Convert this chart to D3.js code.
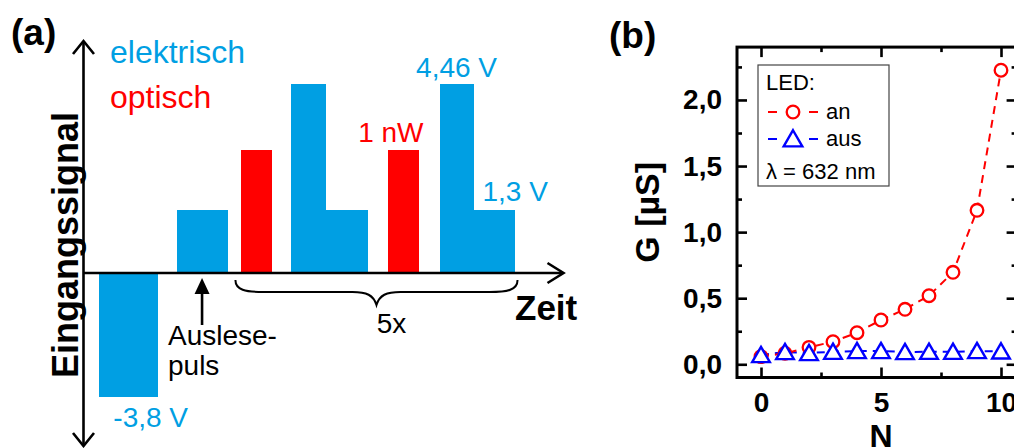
<!DOCTYPE html>
<html><head><meta charset="utf-8">
<script src="https://cdn.jsdelivr.net/npm/d3@7"></script>
<style>
html,body{margin:0;padding:0;background:#fff;}
svg{display:block;font-family:"Liberation Sans",Arial,Helvetica,sans-serif;}
</style></head><body>
<svg id="chart" width="1014" height="448"></svg>
<script>
// ---- Panel (a): input pulse sequence (time in arbitrary units) ----
const pulseStart = [3.3, 19.4, 32.9, 43.3, 50.4, 63.5, 74.2, 81.25];
const pulseEnd   = [15.4, 30.0, 39.2, 50.4, 59.2, 69.8, 81.25, 89.8];
const pulseKind  = ["elektrisch", "elektrisch", "optisch", "elektrisch", "elektrisch", "optisch", "elektrisch", "elektrisch"];
const pulseValue = [-3.8, 1.3, 1, 4.46, 1.3, 1, 4.46, 1.3];
const pulseUnit  = ["V", "V", "nW", "V", "V", "nW", "V", "V"];
const signalKinds = ["elektrisch", "optisch"];

// ---- Panel (b): conductance vs. number of cycles ----
const cycles  = [0, 1, 2, 3, 4, 5, 6, 7, 8, 9, 10];
const gLedOn  = [0.058, 0.083, 0.128, 0.171, 0.239, 0.335, 0.416, 0.519, 0.696, 1.165, 2.225];
const gLedOff = [0.07, 0.093, 0.085, 0.095, 0.1, 0.1, 0.093, 0.095, 0.095, 0.1, 0.097];
const gMajorTicks = [0, 0.5, 1.0, 1.5, 2.0];
const gMinorTicks = [0.25, 0.75, 1.25, 1.75, 2.25];
const nMajorTicks = [0, 5, 10];
const nMinorTicks = [2.5, 7.5];
const ledStates = ["an", "aus"];
const wavelengthNm = 632;

const de = d3.formatLocale({decimal: ",", thousands: ".", grouping: [3], currency: ["", " €"], minus: "-"});
const fmtTick = de.format(".1f");
const fmtVal = de.format("~g");

const BLUE_A = "#009FE3", RED = "#FF0000", BLUE_B = "#0000FF";
const kindColor = d3.scaleOrdinal().domain(signalKinds).range([BLUE_A, RED]);

const svg = d3.select("#chart");

/* ================= Panel (a) ================= */
const a = svg.append("g");
const xT = d3.scaleLinear().domain([0, 100]).range([83.5, 563.5]);
// schematic signal axis: compressive power scale, separate slopes above/below zero
const yEl = d3.scalePow().exponent(0.89).domain([-5, 0, 5]).range([431, 273, 64]);
const yOpt = d3.scaleLinear().domain([0, 2]).range([273, 27]);
const yFor = k => (k === "optisch" ? yOpt : yEl);

const pulses = pulseValue.map((v, i) => ({
  i, v, kind: pulseKind[i], unit: pulseUnit[i], t0: pulseStart[i], t1: pulseEnd[i]
}));

a.selectAll("rect.pulse").data(pulses).join("rect")
  .attr("class", "pulse")
  .attr("shape-rendering", "crispEdges")
  .attr("x", d => xT(d.t0))
  .attr("width", d => xT(d.t1) - xT(d.t0) + 0.6)
  .attr("y", d => Math.min(yFor(d.kind)(d.v), yFor(d.kind)(0)))
  .attr("height", d => Math.abs(yFor(d.kind)(d.v) - yFor(d.kind)(0)))
  .attr("fill", d => kindColor(d.kind));

// axes with open arrowheads
const y0 = yEl(0), xAxis0 = xT(0);
const axA = a.append("g").attr("stroke", "#000").attr("stroke-width", 2.6).attr("fill", "none");
axA.append("line").attr("x1", xAxis0).attr("x2", xAxis0).attr("y1", 41).attr("y2", 446);
axA.append("line").attr("x1", xAxis0).attr("x2", xT(100) - 1).attr("y1", y0).attr("y2", y0);
axA.append("polyline").attr("points", `${xAxis0 - 10.5},54 ${xAxis0},41 ${xAxis0 + 10.5},54`);
axA.append("polyline").attr("points", `${xAxis0 - 10.5},433 ${xAxis0},446 ${xAxis0 + 10.5},433`);
axA.append("polyline").attr("points", `${xT(100) - 16},${y0 - 10} ${xT(100)},${y0} ${xT(100) - 16},${y0 + 10}`);

// legend of signal kinds
a.selectAll("text.kind").data(signalKinds).join("text")
  .attr("class", "kind")
  .attr("x", 110).attr("y", (d, i) => 63 + i * 45)
  .attr("font-size", 32).attr("fill", d => kindColor(d)).text(d => d);

// value labels
const lab = (i, dx, dy, anchor, ref) => {
  const d = pulses[i];
  const ys = yFor(d.kind);
  const xr = ref === "start" ? xT(d.t0) : ref === "end" ? xT(d.t1) : (xT(d.t0) + xT(d.t1)) / 2;
  a.append("text").attr("x", xr + dx).attr("y", ys(d.v) + dy)
    .attr("text-anchor", anchor).attr("font-size", 28)
    .attr("fill", kindColor(d.kind)).text(`${fmtVal(d.v)} ${d.unit}`);
};
lab(0, 14, 30, "start", "start");
lab(5, 5, -8, "end", "end");
lab(6, 0, -7, "middle", "mid");
lab(7, 9, -9, "start", "start");

// read-out pulse marker
const readX = (xT(pulses[1].t0) + xT(pulses[1].t1)) / 2;
a.append("path").attr("d", `M${readX},${y0 + 5} L${readX - 7.5},${y0 + 21} L${readX + 7.5},${y0 + 21} Z`).attr("fill", "#000");
a.append("line").attr("x1", readX).attr("x2", readX).attr("y1", y0 + 20).attr("y2", y0 + 52)
  .attr("stroke", "#000").attr("stroke-width", 2.6);
a.append("text").attr("x", 168).attr("y", 345).attr("font-size", 28).text("Auslese-");
a.append("text").attr("x", 168).attr("y", 375).attr("font-size", 28).text("puls");

// brace over the repeated block
const bx0 = xT(pulses[2].t0) - 6, bx1 = xT(pulses[7].t1) + 3, bm = (bx0 + bx1) / 2;
const by0 = y0 + 7, byF = y0 + 19, byT = y0 + 32;
a.append("path")
  .attr("d", `M${bx0},${by0} C${bx0},${by0 + 10} ${bx0 + 10},${byF} ${bx0 + 28},${byF}
    L${bm - 24},${byF} C${bm - 10},${byF} ${bm - 3},${byF + 3} ${bm},${byT}
    C${bm + 3},${byF + 3} ${bm + 10},${byF} ${bm + 24},${byF}
    L${bx1 - 28},${byF} C${bx1 - 10},${byF} ${bx1},${by0 + 10} ${bx1},${by0}`)
  .attr("fill", "none").attr("stroke", "#000").attr("stroke-width", 2);
a.append("text").attr("x", bm + 15).attr("y", 333).attr("text-anchor", "middle").attr("font-size", 28).text("5x");

a.append("text").attr("x", 515).attr("y", 320).attr("font-size", 35).attr("font-weight", "bold").text("Zeit");
a.append("text").attr("transform", "translate(78,245) rotate(-90)").attr("text-anchor", "middle")
  .attr("font-size", 36).attr("font-weight", "bold").text("Eingangssignal");
a.append("text").attr("x", 11).attr("y", 45).attr("font-size", 37).attr("font-weight", "bold").text("(a)");

/* ================= Panel (b) ================= */
const b = svg.append("g");
const xB = d3.scaleLinear().domain([-1, 10.65]).range([737, 1016.6]);
const yB = d3.scaleLinear().domain([-0.1, 2.4]).range([377.5, 47.1]);
const [xl, xr] = xB.range(), [yb, yt] = yB.range();

function styleAxis(g) {
  g.select(".domain").remove();
  g.selectAll(".tick line").attr("stroke", "#000").attr("stroke-width", 2.6);
  g.selectAll("text").attr("font-family", null).attr("font-size", 28).attr("font-weight", "bold").attr("fill", "#000");
  g.attr("font-family", null).attr("font-size", null);
}
const addAxis = (axis, tx, ty) => b.append("g").attr("transform", `translate(${tx},${ty})`).call(axis).call(styleAxis);

addAxis(d3.axisLeft(yB).tickValues(gMajorTicks).tickSize(-10).tickPadding(15).tickFormat(fmtTick), xl, 0);
addAxis(d3.axisLeft(yB).tickValues(gMinorTicks).tickSize(-5).tickFormat(""), xl, 0);
addAxis(d3.axisRight(yB).tickValues(gMajorTicks).tickSize(-10).tickFormat(""), xr, 0);
addAxis(d3.axisRight(yB).tickValues(gMinorTicks).tickSize(-5).tickFormat(""), xr, 0);
addAxis(d3.axisBottom(xB).tickValues(nMajorTicks).tickSize(-10).tickPadding(14.5).tickFormat(d3.format("d")), 0, yb);
addAxis(d3.axisBottom(xB).tickValues(nMinorTicks).tickSize(-5).tickFormat(""), 0, yb);
addAxis(d3.axisTop(xB).tickValues(nMajorTicks).tickSize(-10).tickFormat(""), 0, yt);
addAxis(d3.axisTop(xB).tickValues(nMinorTicks).tickSize(-5).tickFormat(""), 0, yt);

b.append("rect").attr("x", xl).attr("y", yt).attr("width", xr - xl).attr("height", yb - yt)
  .attr("fill", "none").attr("stroke", "#000").attr("stroke-width", 3);

const line = d3.line().x((d, i) => xB(cycles[i])).y(d => yB(d));
b.append("path").attr("d", line(gLedOff)).attr("fill", "none").attr("stroke", BLUE_B)
  .attr("stroke-width", 2).attr("stroke-dasharray", "8,6");
b.append("path").attr("d", line(gLedOn)).attr("fill", "none").attr("stroke", RED)
  .attr("stroke-width", 2).attr("stroke-dasharray", "8,6");

b.selectAll("circle.on").data(gLedOn).join("circle").attr("class", "on")
  .attr("cx", (d, i) => xB(cycles[i])).attr("cy", d => yB(d)).attr("r", 6.3)
  .attr("fill", "#fff").attr("stroke", RED).attr("stroke-width", 2.3);

const tri = d3.symbol(d3.symbolTriangle, 135);
b.selectAll("path.off").data(gLedOff).join("path").attr("class", "off")
  .attr("d", tri).attr("transform", (d, i) => `translate(${xB(cycles[i])},${yB(d) + 2})`)
  .attr("fill", "#fff").attr("stroke", BLUE_B).attr("stroke-width", 2.4);

// legend
const lg = b.append("g");
lg.append("rect").attr("x", 758).attr("y", 65).attr("width", 131).attr("height", 121)
  .attr("fill", "#fff").attr("stroke", "#444").attr("stroke-width", 1.2);
lg.append("text").attr("x", 766).attr("y", 90).attr("font-size", 22).text("LED:");
const rows = [{label: ledStates[0], color: RED, y: 112}, {label: ledStates[1], color: BLUE_B, y: 139}];
rows.forEach((r, i) => {
  lg.append("line").attr("x1", 768).attr("x2", 777).attr("y1", r.y).attr("y2", r.y).attr("stroke", r.color).attr("stroke-width", 2);
  lg.append("line").attr("x1", 809).attr("x2", 818).attr("y1", r.y).attr("y2", r.y).attr("stroke", r.color).attr("stroke-width", 2);
  if (i === 0) {
    lg.append("circle").attr("cx", 793).attr("cy", r.y).attr("r", 6.3).attr("fill", "#fff").attr("stroke", r.color).attr("stroke-width", 2.3);
  } else {
    lg.append("path").attr("d", d3.symbol(d3.symbolTriangle, 150)).attr("transform", `translate(793,${r.y + 2})`)
      .attr("fill", "#fff").attr("stroke", r.color).attr("stroke-width", 2.4);
  }
  lg.append("text").attr("x", 826).attr("y", r.y + 7).attr("font-size", 22).text(r.label);
});
lg.append("text").attr("x", 766).attr("y", 179).attr("font-size", 22).text(`λ = ${wavelengthNm} nm`);

b.append("text").attr("transform", `translate(659,${(yt + yb) / 2}) rotate(-90)`).attr("text-anchor", "middle")
  .attr("font-size", 34).attr("font-weight", "bold").text("G [µS]");
b.append("text").attr("x", xB(5)).attr("y", 447).attr("text-anchor", "middle")
  .attr("font-size", 32).attr("font-weight", "bold").text("N");
b.append("text").attr("x", 609).attr("y", 48).attr("font-size", 37).attr("font-weight", "bold").text("(b)");
</script>
</body></html>
